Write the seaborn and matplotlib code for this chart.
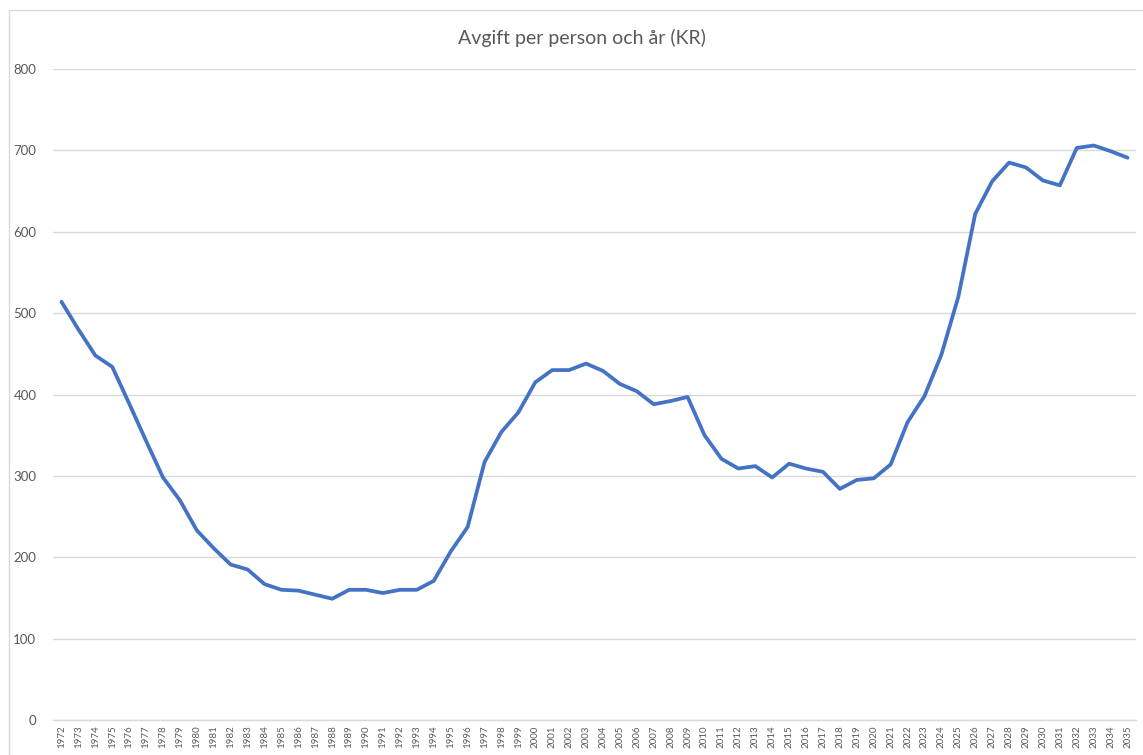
import matplotlib
matplotlib.use("Agg")
import matplotlib.pyplot as plt
import seaborn as sns
import pandas as pd
from matplotlib.patches import Rectangle

years = list(range(1972, 2036))
avgift = [
    514, 480, 448, 434, 389, 343, 298, 270, 233, 211,
    191, 185, 167, 160, 159, 154, 149, 160, 160, 156,
    160, 160, 171, 207, 237, 317, 354, 378, 415, 430,
    430, 438, 429, 413, 404, 388, 392, 397, 350, 321,
    309, 312, 298, 315, 309, 305, 284, 295, 297, 314,
    366, 398, 449, 520, 622, 662, 685, 679, 663, 657,
    703, 706, 699, 691,
]
title = "Avgift per person och år (KR)"

df = pd.DataFrame({"year": years, "avgift": avgift})

sns.set_theme(style="white")
plt.rcParams["font.family"] = ["Lato", "DejaVu Sans"]

fig = plt.figure(figsize=(11.43, 7.55), dpi=100)
ax = fig.add_axes([53 / 1143, 1 - 720 / 755, (1136 - 53) / 1143, (720 - 69) / 755])

# chart area border like the Excel frame
fig.patches.append(Rectangle((9 / 1143, -0.1), 1.2, (755 - 10) / 755 + 0.1,
                             transform=fig.transFigure, fill=False,
                             edgecolor="#D9D9D9", linewidth=1))

sns.lineplot(data=df, x="year", y="avgift", ax=ax, color="#4472C4", linewidth=2.7)

ax.set_xlim(1971.5, 2035.5)
ax.set_ylim(0, 800)
ax.set_yticks(range(0, 801, 100))
ax.set_xticks(years)
ax.set_xticklabels([str(y) for y in years], rotation=90, fontsize=7, color="#595959")
ax.tick_params(axis="y", labelsize=9.5, labelcolor="#595959", length=0, pad=12)
ax.tick_params(axis="x", length=0, pad=4)
ax.yaxis.grid(True, color="#D9D9D9", linewidth=1)
ax.set_axisbelow(True)
for s in ["top", "right", "left"]:
    ax.spines[s].set_visible(False)
ax.spines["bottom"].set_color("#D9D9D9")
ax.spines["bottom"].set_linewidth(1)
ax.set_xlabel("")
ax.set_ylabel("")

fig.text(582 / 1143, 1 - 38 / 755, title, ha="center", va="center",
         fontsize=14, color="#595959")

fig.savefig("out.png", dpi=100)
